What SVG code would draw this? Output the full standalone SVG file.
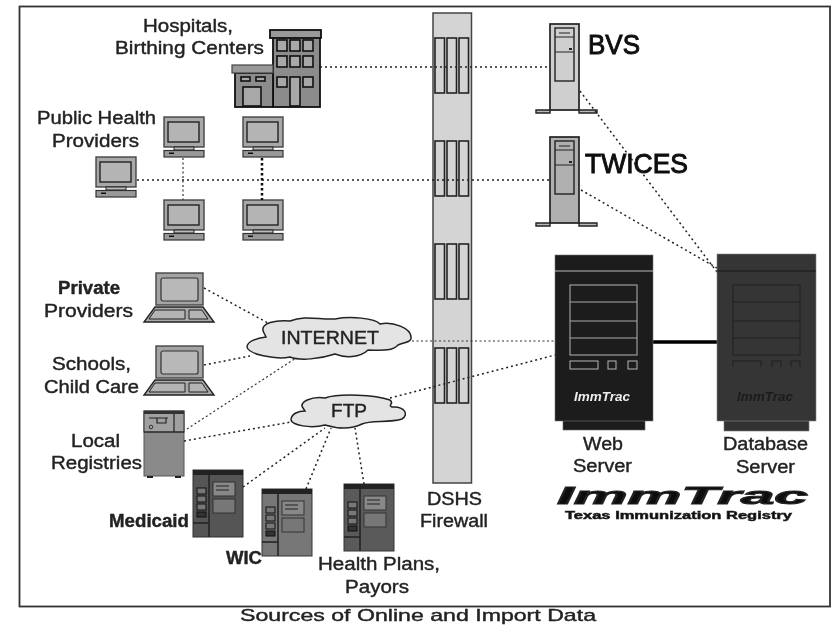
<svg xmlns="http://www.w3.org/2000/svg" xmlns:xlink="http://www.w3.org/1999/xlink" width="833" height="626" viewBox="0 0 833 626">
<style>
text{font-family:"Liberation Sans",Arial,sans-serif;fill:#222;font-size:18px;stroke:#222;stroke-width:.4}
.b{font-size:28px;stroke-width:1;fill:#111;stroke:#111}
.c1{fill:none;stroke:#222;stroke-width:1.500;stroke-dasharray:2 3}
.c2{fill:none;stroke:#111;stroke-width:2.500;stroke-dasharray:2.500 2.500}
.c3{fill:none;stroke:#333;stroke-width:1.200;stroke-dasharray:2 2.500}
.slot{fill:#d4d4d4;stroke:#222;stroke-width:1.600}
.cloud{fill:#e4e4e4;stroke:#222;stroke-width:1.500}
</style>
<defs>
<filter id="soft" x="0" y="0" width="1" height="1"><feGaussianBlur stdDeviation="0.5"/></filter>
<g id="pc">
<rect x="1" y="0" width="40" height="30" fill="#a8a8a8" stroke="#444" stroke-width="1.400"/>
<rect x="5" y="5" width="31" height="20" fill="#b4b4b4" stroke="#222" stroke-width="1.400"/>
<path d="M11 30h20v3H11z" fill="#bbb" stroke="#222"/>
<rect x="1" y="33.500" width="40" height="6.500" fill="#999" stroke="#333" stroke-width="1.200"/>
<rect x="6" y="35.500" width="5" height="1.500" fill="#111"/>
</g>
<g id="laptop">
<rect x="0" y="0" width="47" height="32" fill="#a4a4a4" stroke="#444" stroke-width="1.400"/>
<rect x="5" y="5" width="37" height="23" rx="2" fill="#b8b8b8" stroke="#333" stroke-width="1.200"/>
<path d="M-1 34H47L58 49H-12Z" fill="#aaa" stroke="#222" stroke-width="1.400"/>
<path d="M-1 37H29V46H-7ZM33 37H46L52 46H33Z" fill="#b4b4b4" stroke="#222"/>
</g>
<g id="atm">
<rect x="0" y="0" width="50" height="67" stroke="#333"/>
<rect x="0" y="0" width="50" height="5" fill="#222"/>
<path d="M16 0V67M0 53H16" stroke="#222" stroke-width="1.500" fill="none"/>
<rect x="20" y="12" width="22" height="14" fill="#888" stroke="#333"/>
<rect x="20" y="29" width="22" height="14" fill="#777" stroke="#333"/>
<path d="M23 16H36M23 20H36" stroke="#222"/>
<rect x="4" y="18" width="9" height="6" fill="#777" stroke="#111"/>
<rect x="4" y="26" width="9" height="6" fill="#777" stroke="#111"/>
<rect x="4" y="34" width="9" height="6" fill="#777" stroke="#111"/>
<rect x="4" y="42" width="9" height="5" fill="#333" stroke="#111"/>
</g>
<g id="tower">
<path d="M0 86H-14V89H0ZM29 86H47V89H29Z" fill="#bbb" stroke="#222" stroke-width="1.400"/>
<rect x="0" y="0" width="29" height="86" stroke="#222" stroke-width="1.700"/>
<rect x="5" y="4" width="19" height="53" fill="none" stroke="#222" stroke-width="1.400"/>
<path d="M5 13H24M5 28H24M9 9H20" stroke="#222" stroke-width="1.200" fill="none"/>
<rect x="19" y="24" width="3" height="2" fill="#222"/>
</g>
<g id="slots">
<rect x="435" y="0" width="9.500" height="55" class="slot"/>
<rect x="447" y="0" width="9.500" height="55" class="slot"/>
<rect x="459" y="0" width="9.500" height="55" class="slot"/>
</g>
</defs>
<g filter="url(#soft)">
<rect width="833" height="626" fill="#fff"/>
<g id="firewall">
<rect x="433" y="13" width="38.500" height="470" fill="#d4d4d4" stroke="#444" stroke-width="1.500"/>
<use xlink:href="#slots" href="#slots" y="38"/>
<use xlink:href="#slots" href="#slots" y="141"/>
<use xlink:href="#slots" href="#slots" y="244"/>
<use xlink:href="#slots" href="#slots" y="348"/>
</g>
<g id="hospital">
<rect x="273" y="37" width="47" height="70" fill="#8c8c8c" stroke="#111" stroke-width="1.800"/>
<rect x="270" y="30" width="51" height="8" fill="#999" stroke="#111" stroke-width="1.800"/>
<rect x="235" y="73" width="38" height="34" fill="#8c8c8c" stroke="#111" stroke-width="1.800"/>
<rect x="232" y="65" width="41" height="8" fill="#999" stroke="#444" stroke-width="1.200"/>
<g fill="#a8a8a8" stroke="#111" stroke-width="1.600">
<rect x="277" y="40" width="10" height="11"/><rect x="290" y="40" width="10" height="11"/><rect x="303" y="40" width="10" height="11"/>
<rect x="277" y="56" width="10" height="11"/><rect x="290" y="56" width="10" height="11"/><rect x="303" y="56" width="10" height="11"/>
<rect x="277" y="77" width="10" height="10"/><rect x="290" y="77" width="10" height="29"/><rect x="303" y="77" width="10" height="10"/>
<rect x="241" y="77" width="9" height="4"/><rect x="256" y="77" width="9" height="4"/><rect x="243" y="87" width="18" height="19"/>
</g>
</g>
<g id="ph-pc1"><use xlink:href="#pc" href="#pc" x="163" y="117"/></g>
<g id="ph-pc2"><use xlink:href="#pc" href="#pc" x="242" y="117"/></g>
<g id="ph-pc3"><use xlink:href="#pc" href="#pc" x="95" y="157"/></g>
<g id="ph-pc4"><use xlink:href="#pc" href="#pc" x="163" y="200"/></g>
<g id="ph-pc5"><use xlink:href="#pc" href="#pc" x="242" y="200"/></g>
<g id="private-laptop"><use xlink:href="#laptop" href="#laptop" x="156" y="273"/></g>
<g id="schools-laptop"><use xlink:href="#laptop" href="#laptop" x="156" y="346"/></g>
<g id="local-registries">
<rect x="144" y="411" width="40" height="65" fill="#8a8a8a" stroke="#555"/>
<rect x="144" y="411" width="40" height="21" fill="#a0a0a0" stroke="#333"/>
<rect x="144" y="411" width="40" height="3" fill="#333"/>
<path d="M174 414V432M144 432H184" stroke="#222" stroke-width="1.200"/>
<path d="M149 418H168M157 418V423H166V418" fill="none" stroke="#222" stroke-width="1.200"/>
<circle cx="151" cy="427" r="1.800" fill="none" stroke="#333"/>
<path d="M147 477h6M175 477h6" stroke="#222" stroke-width="2"/>
</g>
<g id="medicaid"><use xlink:href="#atm" href="#atm" x="193" y="470" fill="#555"/></g>
<g id="wic"><use xlink:href="#atm" href="#atm" x="262" y="489" fill="#777"/></g>
<g id="health-plans"><use xlink:href="#atm" href="#atm" x="344" y="484" fill="#5a5a5a"/></g>
<g id="bvs">
<use xlink:href="#tower" href="#tower" x="550" y="24" fill="#cfcfcf"/>
<text class="b" x="588" y="54" textLength="52" lengthAdjust="spacingAndGlyphs">BVS</text>
</g>
<g id="twices">
<use xlink:href="#tower" href="#tower" x="550" y="137" fill="#b0b0b0"/>
<text class="b" x="585" y="173" textLength="103" lengthAdjust="spacingAndGlyphs">TWICES</text>
</g>
<g id="connectors">
<path class="c1" d="M320 67H550"/>
<path class="c1" d="M137 180H550"/>
<path class="c3" d="M183 158V200"/>
<path class="c2" d="M262 158V200"/>
<path class="c1" d="M204 288L268 323"/>
<path class="c1" d="M204 365L250 356"/>
<path class="c3" d="M187 429L296 358"/>
<path class="c1" d="M184 441L291 422"/>
<path class="c1" d="M243 487L325 428"/>
<path class="c1" d="M306 489L331 428"/>
<path class="c1" d="M364 484L355 428"/>
<path class="c3" d="M412 341H555"/>
<path class="c1" d="M390 398L555 355"/>
<path class="c1" d="M580 91L717 272"/>
<path class="c1" d="M581 190L717 268"/>
<path d="M653 342H717" stroke="#000" stroke-width="3.500" fill="none"/>
</g>
<g id="internet">
<path class="cloud" d="M264 333C258 322 278 320 290 321C305 315 320 320 335 319C350 316 375 318 380 324C392 321 412 328 411 338C412 342 402 343 398 345C392 352 378 350 368 350C360 358 345 358 335 354C320 359 300 361 290 357C275 360 248 354 247 347C247 341 258 338 266 337Z"/>
<text x="281" y="344" textLength="98" lengthAdjust="spacingAndGlyphs" style="font-size:19px">INTERNET</text>
</g>
<g id="ftp">
<path class="cloud" d="M303 408C298 402 312 396 325 398C340 393 375 395 390 400C395 404 387 405 392 407C405 406 409 415 402 419C390 423 370 420 362 424C350 430 335 428 325 425C310 429 292 425 291 420C291 414 298 411 305 411Z"/>
<text x="331" y="417" textLength="36" lengthAdjust="spacingAndGlyphs" style="font-size:19px">FTP</text>
</g>
<g id="web-server">
<rect x="563" y="420" width="82" height="10" fill="#1a1a1a" stroke="#666" stroke-width=".6"/>
<rect x="555" y="255" width="98" height="166" fill="#1a1a1a" stroke="#777" stroke-width=".6"/>
<path d="M555 271H653" stroke="#bbb" stroke-width="1.200"/>
<g fill="none" stroke="#aaa" stroke-width="1.100">
<rect x="570" y="285" width="67" height="70"/>
<path d="M570 302H637M570 321H637M570 338H637"/>
<rect x="570" y="361" width="28" height="8"/><rect x="608" y="361" width="8" height="8"/><rect x="628" y="361" width="9" height="8"/>
</g>
<text x="574" y="401" textLength="56" lengthAdjust="spacingAndGlyphs" style="fill:#eee;stroke:none;font-size:13px;font-style:italic;font-weight:bold">ImmTrac</text>
</g>
<g id="database-server">
<rect x="724" y="420" width="85" height="11" fill="#333" stroke="#777" stroke-width=".6"/>
<rect x="717" y="254" width="99" height="167" fill="#353535" stroke="#888" stroke-width=".6"/>
<path d="M717 271H816" stroke="#1c1c1c" stroke-width="1.200"/>
<g fill="none" stroke="#242424" stroke-width="1.100">
<rect x="733" y="285" width="67" height="70"/>
<path d="M733 302H800M733 321H800M733 338H800"/>
<path d="M733 367V361H761V367M772 367V361H781V367M791 367V361H800V367"/>
</g>
<text x="737" y="401" textLength="56" lengthAdjust="spacingAndGlyphs" style="fill:#1c1c1c;stroke:none;font-size:13px;font-style:italic;font-weight:bold">ImmTrac</text>
</g>
<g id="logo">
<text x="557" y="504" textLength="251" lengthAdjust="spacingAndGlyphs" style="fill:#111;font-size:24px;font-style:italic;font-weight:bold;stroke-width:1">ImmTrac</text>
<text x="565" y="519" textLength="227" lengthAdjust="spacingAndGlyphs" style="fill:#111;font-size:11px;font-weight:bold;stroke-width:.5">Texas Immunization Registry</text>
</g>
<g id="labels">
<text x="143" y="32" textLength="90" lengthAdjust="spacingAndGlyphs">Hospitals,</text>
<text x="115" y="54" textLength="149" lengthAdjust="spacingAndGlyphs">Birthing Centers</text>
<text x="37" y="124" textLength="119" lengthAdjust="spacingAndGlyphs">Public Health</text>
<text x="52" y="147" textLength="87" lengthAdjust="spacingAndGlyphs">Providers</text>
<text x="58" y="294" textLength="62" lengthAdjust="spacingAndGlyphs" style="font-weight:bold">Private</text>
<text x="44" y="317" textLength="89" lengthAdjust="spacingAndGlyphs">Providers</text>
<text x="52" y="370" textLength="79" lengthAdjust="spacingAndGlyphs">Schools,</text>
<text x="44" y="393" textLength="95" lengthAdjust="spacingAndGlyphs">Child Care</text>
<text x="71" y="447" textLength="49" lengthAdjust="spacingAndGlyphs">Local</text>
<text x="51" y="469" textLength="91" lengthAdjust="spacingAndGlyphs">Registries</text>
<text x="109" y="527" textLength="80" lengthAdjust="spacingAndGlyphs" style="font-weight:bold">Medicaid</text>
<text x="226" y="564" textLength="36" lengthAdjust="spacingAndGlyphs" style="font-weight:bold">WIC</text>
<text x="318" y="570" textLength="122" lengthAdjust="spacingAndGlyphs">Health Plans,</text>
<text x="345" y="593" textLength="64" lengthAdjust="spacingAndGlyphs">Payors</text>
<text x="427" y="505" textLength="55" lengthAdjust="spacingAndGlyphs">DSHS</text>
<text x="420" y="527" textLength="68" lengthAdjust="spacingAndGlyphs">Firewall</text>
<text x="583" y="450" textLength="40" lengthAdjust="spacingAndGlyphs">Web</text>
<text x="573" y="472" textLength="59" lengthAdjust="spacingAndGlyphs">Server</text>
<text x="723" y="450" textLength="85" lengthAdjust="spacingAndGlyphs">Database</text>
<text x="736" y="473" textLength="59" lengthAdjust="spacingAndGlyphs">Server</text>
<text x="240" y="621" textLength="356" lengthAdjust="spacingAndGlyphs" style="font-size:17px">Sources of Online and Import Data</text>
</g>
<rect id="frame" x="19.500" y="6.500" width="810.500" height="600" fill="none" stroke="#333" stroke-width="1.800"/>
</g>
</svg>
